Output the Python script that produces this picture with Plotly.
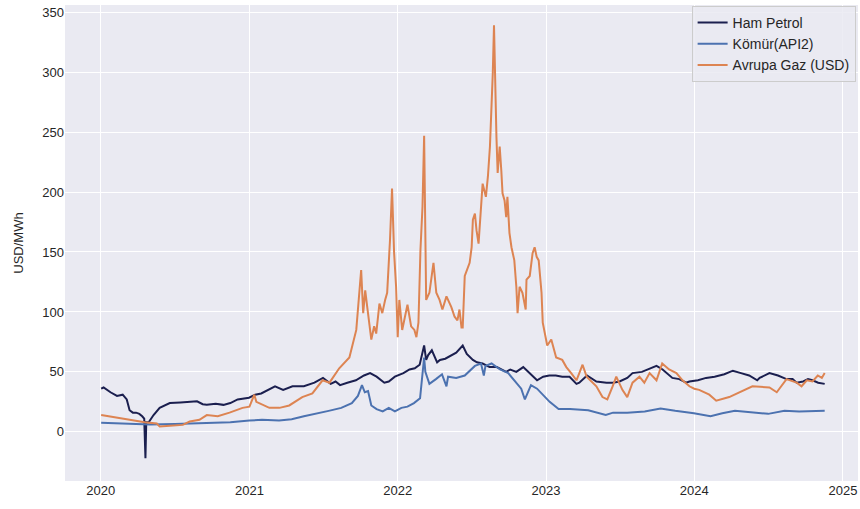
import plotly.graph_objects as go

# ---- Data (USD/MWh) ----
oil_dates = ["2020-01-02","2020-01-08","2020-01-25","2020-02-10","2020-02-24","2020-03-05","2020-03-12",
             "2020-03-20","2020-03-28","2020-04-05","2020-04-12","2020-04-17","2020-04-20","2020-04-22",
             "2020-04-28","2020-05-10","2020-05-25","2020-06-10","2020-06-19","2020-07-15","2020-08-25",
             "2020-09-08","2020-09-18","2020-10-10","2020-10-29","2020-11-15","2020-12-03","2020-12-31",
             "2021-01-15","2021-01-30","2021-02-15","2021-03-05","2021-03-25","2021-04-17","2021-05-15",
             "2021-06-10","2021-07-01","2021-07-20","2021-08-01","2021-08-12","2021-08-30","2021-09-20",
             "2021-10-10","2021-10-25","2021-11-10","2021-11-29","2021-12-10","2021-12-25","2022-01-15",
             "2022-01-30","2022-02-12","2022-02-24","2022-03-07","2022-03-12","2022-03-17","2022-03-26",
             "2022-04-08","2022-04-15","2022-04-28","2022-05-10","2022-05-25","2022-06-10","2022-06-20",
             "2022-07-05","2022-07-15","2022-07-29","2022-08-15","2022-09-02","2022-09-25","2022-10-05",
             "2022-10-20","2022-11-06","2022-11-22","2022-12-10","2022-12-25","2023-01-09","2023-01-25",
             "2023-02-10","2023-02-28","2023-03-17","2023-03-24","2023-04-12","2023-05-05","2023-05-30",
             "2023-06-15","2023-07-01","2023-07-20","2023-08-02","2023-08-25","2023-09-10","2023-09-30",
             "2023-10-15","2023-11-08","2023-11-25","2023-12-12","2023-12-20","2024-01-10","2024-01-30",
             "2024-02-20","2024-03-15","2024-04-05","2024-04-25","2024-05-15","2024-06-04","2024-06-10",
             "2024-07-04","2024-07-25","2024-08-15","2024-08-30","2024-09-09","2024-09-25","2024-10-07",
             "2024-10-18","2024-11-01","2024-11-17"]
oil_vals = [36, 37, 33, 30, 31, 27, 18,
            16, 16, 15, 13, 11, -22, 8,
            8, 14, 20, 22.5, 24, 24.5, 25.5,
            23, 22.5, 23.5, 22.5, 24, 27, 28.5,
            31, 32, 35, 38, 35, 38, 38,
            41, 45, 40, 42, 39, 41, 43,
            47, 49, 46, 41, 42, 46, 49,
            52, 53, 56, 72, 60, 64, 68,
            58, 60, 61, 63, 66, 72, 65,
            60, 58, 57, 54, 54, 50, 52,
            50, 54, 49, 43, 46, 47, 47,
            46, 46, 40, 41, 47, 42, 41,
            41, 42, 45, 49, 50, 52, 55,
            52, 45, 44, 41, 42, 43, 45,
            46, 48, 51, 49, 47, 43, 45,
            49, 47, 44, 44, 41, 42, 44,
            43, 41, 40]

coal_dates = ["2020-01-02","2020-03-01","2020-05-01","2020-07-01","2020-09-01","2020-10-15","2020-11-15",
              "2021-01-01","2021-02-01","2021-03-15","2021-04-15","2021-05-15","2021-06-15","2021-07-15",
              "2021-08-15","2021-09-10","2021-09-25","2021-10-05","2021-10-12","2021-10-20","2021-10-28",
              "2021-11-10","2021-11-25","2021-12-10","2021-12-25","2022-01-10","2022-01-25","2022-02-10",
              "2022-02-25","2022-03-02","2022-03-07","2022-03-10","2022-03-20","2022-04-05","2022-04-20",
              "2022-05-01","2022-05-05","2022-05-25","2022-06-15","2022-07-10","2022-07-25","2022-08-01",
              "2022-08-05","2022-08-20","2022-09-10","2022-09-30","2022-10-15","2022-11-01","2022-11-10",
              "2022-11-25","2022-12-10","2022-12-25","2023-01-10","2023-02-01","2023-03-01","2023-04-15",
              "2023-05-28","2023-06-15","2023-07-20","2023-09-01","2023-10-10","2023-11-15","2023-12-31",
              "2024-02-10","2024-03-10","2024-04-10","2024-05-20","2024-07-01","2024-08-10","2024-09-15",
              "2024-11-17"]
coal_vals = [7.5, 7, 6.2, 6.5, 7, 7.5, 8,
             9.5, 10, 9.5, 10.5, 13, 15, 17.5,
             20, 24, 30, 39, 33, 34, 22,
             19, 17, 20, 17, 20, 21, 24,
             28, 45, 62, 50, 40, 44, 48,
             38, 46, 45, 47, 55, 57, 47,
             55, 57, 52, 49, 43, 36, 27,
             39, 36, 31, 25, 19, 19, 18,
             14, 16, 16, 17, 19.5, 17.5, 15.5,
             13, 15.5, 17.5, 16, 15, 17.5, 17,
             17.5]

gas_dates = ["2020-01-02","2020-02-04","2020-03-12","2020-04-18","2020-05-18","2020-05-25","2020-06-19",
             "2020-07-21","2020-08-07","2020-08-31","2020-09-18","2020-10-15","2020-11-13","2020-12-15",
             "2021-01-01","2021-01-13","2021-01-18","2021-02-07","2021-02-19","2021-03-16","2021-04-09",
             "2021-05-11","2021-06-05","2021-06-30","2021-07-17","2021-08-10","2021-09-04","2021-09-21",
             "2021-09-28","2021-10-03","2021-10-08","2021-10-13","2021-10-18","2021-10-28","2021-11-04",
             "2021-11-09","2021-11-17","2021-11-24","2021-12-01","2021-12-06","2021-12-13","2021-12-18",
             "2021-12-23","2021-12-28","2022-01-01","2022-01-05","2022-01-12","2022-01-25","2022-02-03",
             "2022-02-11","2022-02-16","2022-02-21","2022-02-26","2022-03-03","2022-03-07","2022-03-10",
             "2022-03-12","2022-03-20","2022-03-25","2022-03-30","2022-04-06","2022-04-14","2022-04-21",
             "2022-05-01","2022-05-13","2022-05-21","2022-05-28","2022-06-02","2022-06-07","2022-06-10",
             "2022-06-15","2022-06-20","2022-06-27","2022-07-02","2022-07-05","2022-07-10","2022-07-14",
             "2022-07-19","2022-07-27","2022-07-29","2022-08-06","2022-08-11","2022-08-16","2022-08-21",
             "2022-08-23","2022-08-26","2022-08-30","2022-09-01","2022-09-04","2022-09-09","2022-09-13",
             "2022-09-16","2022-09-21","2022-09-25","2022-09-28","2022-10-03","2022-10-08","2022-10-15",
             "2022-10-20","2022-10-23","2022-10-28","2022-11-04","2022-11-12","2022-11-14","2022-11-22",
             "2022-11-29","2022-12-04","2022-12-09","2022-12-14","2022-12-21","2022-12-24","2022-12-28",
             "2023-01-02","2023-01-04","2023-01-14","2023-01-26","2023-02-10","2023-02-20","2023-03-04",
             "2023-03-17","2023-03-24","2023-04-01","2023-04-11","2023-05-05","2023-05-20","2023-06-01",
             "2023-06-14","2023-06-23","2023-07-08","2023-07-20","2023-08-02","2023-08-19","2023-08-31",
             "2023-09-13","2023-09-30","2023-10-14","2023-10-31","2023-11-18","2023-12-03","2023-12-20",
             "2024-01-01","2024-01-13","2024-02-07","2024-02-24","2024-03-27","2024-04-21","2024-05-23",
             "2024-07-04","2024-07-22","2024-08-15","2024-09-09","2024-09-21","2024-10-04","2024-10-18",
             "2024-10-31","2024-11-10","2024-11-17"]
gas_vals = [14, 12, 10, 8, 7, 4.5, 5,
            5.8, 8.6, 10, 14, 13, 16, 20,
            21, 31, 25, 22, 20, 20, 22,
            29, 32, 43, 41, 53, 62, 85,
            113, 135, 99, 118, 104, 77, 88,
            82, 107, 99, 110, 116, 160, 203,
            150, 121, 79, 110, 85, 106, 88,
            85, 79, 91, 152, 188, 247, 166,
            110, 116, 130, 141, 116, 110, 102,
            113, 104, 96, 93, 102, 87, 87,
            130, 135, 141, 154, 177, 182, 168,
            157, 204, 207, 196, 213, 238, 277,
            299, 339, 268, 246, 216, 238, 218,
            199, 193, 179, 196, 166, 154, 143,
            121, 99, 121, 116, 102, 127, 130,
            149, 154, 146, 143, 116, 91, 85,
            77, 72, 77, 62, 60, 54, 49,
            43, 49, 56, 46, 38, 29, 27,
            38, 46, 35, 29, 41, 46, 41,
            49, 43, 57, 52, 49, 43, 38,
            36, 35, 31, 26, 29, 33, 38,
            37, 33, 44, 41, 38, 43, 42,
            47, 45, 49]

year_ticks = ["2020-01-01","2021-01-01","2022-01-01","2023-01-01","2024-01-01","2025-01-01"]
year_labels = ["2020","2021","2022","2023","2024","2025"]
y_ticks = [0, 50, 100, 150, 200, 250, 300, 350]

fig = go.Figure()
fig.add_trace(go.Scatter(x=oil_dates, y=oil_vals, mode="lines", name="Ham Petrol",
                         line=dict(color="#1b1f4f", width=2)))
fig.add_trace(go.Scatter(x=coal_dates, y=coal_vals, mode="lines", name="Kömür(API2)",
                         line=dict(color="#4c72b0", width=2)))
fig.add_trace(go.Scatter(x=gas_dates, y=gas_vals, mode="lines", name="Avrupa Gaz (USD)",
                         line=dict(color="#dd8452", width=2)))

fig.update_layout(
    width=860, height=509,
    margin=dict(l=65, r=2, t=5, b=28, autoexpand=False),
    paper_bgcolor="white",
    plot_bgcolor="#eaeaf2",
    font=dict(family="Liberation Sans, Arial, sans-serif", size=13, color="#262626"),
    showlegend=True,
    legend=dict(x=0.997, y=0.998, xanchor="right", yanchor="top",
                bgcolor="rgba(234,234,242,0.85)", bordercolor="#cccccc", borderwidth=1,
                font=dict(size=14, color="#262626"), tracegroupgap=0,
                itemwidth=30),
    xaxis=dict(type="date", range=["2019-10-05", "2025-02-07"],
               tickvals=year_ticks, ticktext=year_labels,
               showgrid=True, gridcolor="white", gridwidth=1, automargin=False,
               zeroline=False, showline=False, ticks="", ticklen=0),
    yaxis=dict(range=[-41, 356], tickvals=y_ticks, automargin=False,
               showgrid=True, gridcolor="white", gridwidth=1,
               zeroline=False, showline=False, ticks="",
               title=dict(text="USD/MWh", font=dict(size=13))),
)

fig.write_html("out.html", config={"displayModeBar": False},
               post_script="document.body.style.margin='0px';document.body.style.overflow='hidden';")
